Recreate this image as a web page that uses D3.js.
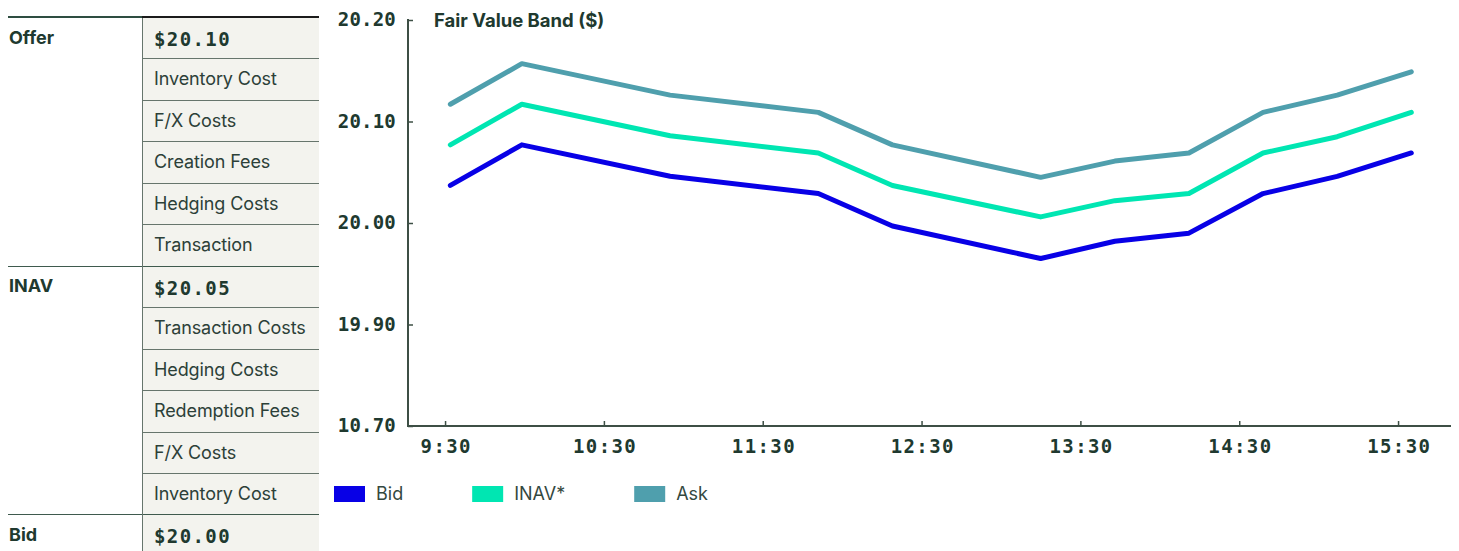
<!DOCTYPE html>
<html>
<head>
<meta charset="utf-8">
<script src="https://cdn.jsdelivr.net/npm/d3@7"></script>
<style>
  html, body { margin: 0; padding: 0; background: #ffffff; }
  svg { display: block; }
</style>
</head>
<body>
<svg id="chart" width="1459" height="551"></svg>
<script>
// ---------- data ----------
const times = ["9:32","9:59","10:55","11:51","12:19","13:15","13:43","14:11","14:39","15:07","15:35"];
const bidValues  = [20.037,20.077,20.046,20.029,19.997,19.965,19.982,19.990,20.029,20.046,20.069];
const inavValues = [20.077,20.117,20.086,20.069,20.037,20.006,20.022,20.029,20.069,20.085,20.109];
const askValues  = [20.117,20.157,20.126,20.109,20.077,20.045,20.061,20.069,20.109,20.126,20.149];
const seriesNames = ["Bid","INAV*","Ask"];
const yTickValues = [19.80,19.90,20.00,20.10,20.20];
const yTickLabels = ["10.70","19.90","20.00","20.10","20.20"];
const xTickLabels = ["9:30","10:30","11:30","12:30","13:30","14:30","15:30"];
const chartTitle = "Fair Value Band ($)";
const tableSectionLabels = ["Offer","","","","","","INAV","","","","","","Bid"];
const tableCellTexts = ["$20.10","Inventory Cost","F/X Costs","Creation Fees","Hedging Costs","Transaction",
  "$20.05","Transaction Costs","Hedging Costs","Redemption Fees","F/X Costs","Inventory Cost","$20.00"];

// ---------- styles ----------
const colors = { "Bid": "#0800e6", "INAV*": "#00e6b2", "Ask": "#4f9fad" };
const textDark = "#20392f";
const axisColor = "#3d4f45";
const gridColor = "#66756c";
const monoFont = "'DejaVu Sans Mono', 'Liberation Mono', monospace";
const sansFont = "Inter, 'Liberation Sans', sans-serif";

const toMin = s => { const [h, m] = s.split(":").map(Number); return h * 60 + m; };

const svg = d3.select("#chart");

// ---------- table ----------
const tbl = { x0: 8, xMid: 142, x1: 319, top: 17, rowH: 41.45 };
const tg = svg.append("g");
const nRows = tableCellTexts.length;
tg.append("rect")
  .attr("x", tbl.xMid).attr("y", tbl.top)
  .attr("width", tbl.x1 - tbl.xMid).attr("height", 551 - tbl.top)
  .attr("fill", "#f3f3ee");
for (let i = 1; i < nRows; i++) {
  const y = Math.round(tbl.top + i * tbl.rowH) + 0.5;
  const full = tableSectionLabels[i] !== "";
  tg.append("line")
    .attr("x1", full ? tbl.x0 : tbl.xMid).attr("x2", tbl.x1)
    .attr("y1", y).attr("y2", y)
    .attr("stroke", full ? "#3f5a4e" : gridColor).attr("stroke-width", 1);
}
tg.append("line")
  .attr("x1", tbl.xMid + 0.5).attr("x2", tbl.xMid + 0.5)
  .attr("y1", tbl.top).attr("y2", 551)
  .attr("stroke", gridColor).attr("stroke-width", 1);
tg.append("line").attr("x1", tbl.x0).attr("x2", tbl.xMid).attr("y1", tbl.top).attr("y2", tbl.top)
  .attr("stroke", "#2e4d41").attr("stroke-width", 2);
tg.append("line").attr("x1", tbl.xMid).attr("x2", tbl.x1).attr("y1", tbl.top).attr("y2", tbl.top)
  .attr("stroke", "#1b1b1b").attr("stroke-width", 2.2);

tableCellTexts.forEach((t, i) => {
  const rowTop = tbl.top + i * tbl.rowH;
  const isValue = t.startsWith("$");
  tg.append("text")
    .attr("x", 154).attr("y", rowTop + (isValue ? 29 : 27))
    .attr("fill", isValue ? textDark : "#2c4038")
    .style("font-family", isValue ? monoFont : sansFont)
    .style("font-weight", isValue ? 700 : 400)
    .style("font-size", isValue ? "19px" : "18px")
    .style("letter-spacing", isValue ? "1.4px" : "-0.1px")
    .text(t);
  if (tableSectionLabels[i]) {
    tg.append("text")
      .attr("x", 9).attr("y", rowTop + 26.5)
      .attr("fill", textDark)
      .style("font-family", sansFont).style("font-weight", 700).style("font-size", "18px")
      .text(tableSectionLabels[i]);
  }
});

// ---------- chart ----------
const x = d3.scaleLinear().domain([toMin("9:16"), toMin("15:50")]).range([408, 1451]);
const y = d3.scaleLinear().domain([19.80, 20.20]).range([426, 20]);

const yAxis = d3.axisLeft(y).tickValues(yTickValues)
  .tickFormat((d, i) => yTickLabels[i]).tickSizeInner(-5).tickSizeOuter(0).tickPadding(12);
const gy = svg.append("g").attr("transform", "translate(408,0)").call(yAxis);
gy.select(".domain").attr("stroke", axisColor).attr("stroke-width", 2).attr("d", "M0,19V427");
gy.selectAll(".tick line").attr("stroke", axisColor).attr("stroke-width", 1.5);
gy.selectAll(".tick text").attr("fill", textDark).attr("dy", "0.3em")
  .style("font-family", monoFont).style("font-weight", 700).style("font-size", "19px")
  .style("letter-spacing", "0.2px");

const xAxis = d3.axisBottom(x).tickValues(xTickLabels.map(toMin))
  .tickFormat((d, i) => xTickLabels[i]).tickSizeInner(-5).tickSizeOuter(0).tickPadding(12);
const gx = svg.append("g").attr("transform", "translate(0,426)").call(xAxis);
gx.select(".domain").attr("stroke", axisColor).attr("stroke-width", 2).attr("d", "M407,0H1451");
gx.selectAll(".tick line").attr("stroke", axisColor).attr("stroke-width", 1.5);
gx.selectAll(".tick text").attr("fill", textDark).attr("dy", "0.78em")
  .style("font-family", monoFont).style("font-weight", 700).style("font-size", "19px")
  .style("letter-spacing", "1.4px").attr("dx", "0.7px");

svg.append("text").attr("x", 434).attr("y", 26.5).attr("fill", textDark)
  .style("font-family", sansFont).style("font-weight", 700).style("font-size", "18.5px")
  .text(chartTitle);

const seriesData = [bidValues, inavValues, askValues];
const line = d3.line().x((d, i) => x(toMin(times[i]))).y(d => y(d)).curve(d3.curveLinear);
seriesNames.forEach((name, k) => {
  svg.append("path").datum(seriesData[k])
    .attr("d", line).attr("fill", "none")
    .attr("stroke", colors[name]).attr("stroke-width", 5)
    .attr("stroke-linejoin", "round").attr("stroke-linecap", "round");
});

// ---------- legend ----------
const lg = svg.append("g");
let lx = 334;
seriesNames.forEach(name => {
  lg.append("rect").attr("x", lx).attr("y", 486).attr("width", 31).attr("height", 16)
    .attr("fill", colors[name]);
  const t = lg.append("text").attr("x", lx + 42).attr("y", 500).attr("fill", "#34483f")
    .style("font-family", sansFont).style("font-size", "18px").text(name);
  const w = t.node().getComputedTextLength();
  lx = lx + 42 + w + 69;
});
</script>
</body>
</html>
